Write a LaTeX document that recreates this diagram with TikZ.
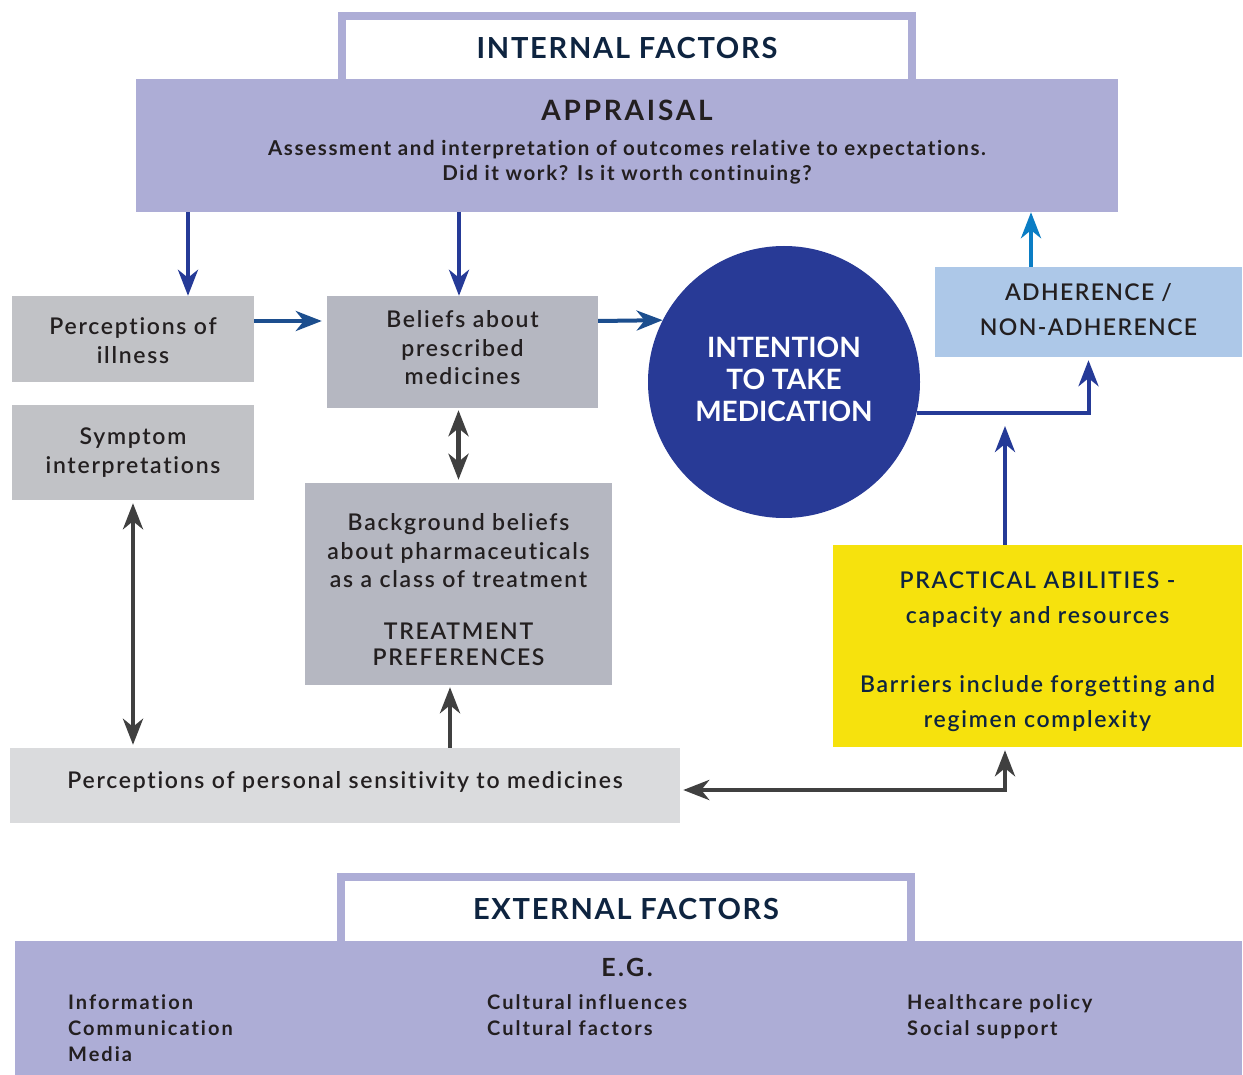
\documentclass[tikz,border=0pt]{standalone}
\usepackage{fontspec}
\setmainfont{Lato}[Ligatures=NoCommon]
% tracked cuts of Lato used across the chart
\newfontfamily\bodyfont[LetterSpace=7.5,Ligatures=NoCommon]{Lato Semibold}
\newfontfamily\capsfont[LetterSpace=6,Ligatures=NoCommon]{Lato Semibold}
\newfontfamily\listfont[LetterSpace=10,Ligatures=NoCommon]{Lato Bold}
\newfontfamily\subfont[LetterSpace=8,Ligatures=NoCommon]{Lato Bold}
\newfontfamily\headfont[LetterSpace=6,Ligatures=NoCommon]{Lato Bold}
\newfontfamily\plainbold[Ligatures=NoCommon]{Lato Bold}
\usetikzlibrary{arrows.meta,calc}

\definecolor{lav}{HTML}{ADADD6}
\definecolor{ink}{HTML}{231F20}
\definecolor{navy}{HTML}{0E2440}
\definecolor{greyA}{HTML}{C1C2C6}
\definecolor{greyB}{HTML}{B5B7C1}
\definecolor{greyC}{HTML}{DADBDD}
\definecolor{circblue}{HTML}{283A96}
\definecolor{adhblue}{HTML}{ADC8E8}
\definecolor{yel}{HTML}{F6E20D}
\definecolor{arrblue}{HTML}{253A97}
\definecolor{arrsteel}{HTML}{1C4E8E}
\definecolor{arrlight}{HTML}{0A7DC4}
\definecolor{arrgrey}{HTML}{404040}

\begin{document}
\begin{tikzpicture}[x=1pt,y=-1pt,
  box/.style={rectangle, inner sep=0pt},
  txt/.style={inner sep=0pt, align=center, text=ink},
  frame/.style={box, draw=lav, line width=8pt, fill=white,
    minimum width=570pt, minimum height=68pt},
  headtext/.style={txt, text=navy, font=\headfont\fontsize{29}{34}\selectfont},
  bodytext/.style={txt, font=\bodyfont\fontsize{23}{29}\selectfont},
  listtext/.style={inner sep=0pt, align=left, text=ink, anchor=north west,
    font=\listfont\fontsize{20}{26}\selectfont},
  >={Stealth[length=26pt,width=20pt,inset=8pt]},
  blueline/.style={draw=arrblue, line width=4pt},
  steelline/.style={draw=arrsteel, line width=4pt},
  lightline/.style={draw=arrlight, line width=4pt},
  greyline/.style={draw=arrgrey, line width=4.5pt},
]
\useasboundingbox[fill=white] (0,0) rectangle (1243,1075);

% ---- internal factors ----
\node[frame] (intl) at (627,50) {};
\node[headtext] (intl-t) at (627,48) {INTERNAL FACTORS};
\node[box, fill=lav, minimum width=982pt, minimum height=133pt] (appr) at (627,145.5) {};
\node[txt, font=\subfont\fontsize{20.5}{25}\selectfont] (appr-t) at (627,142.5)
  {{\listfont\fontsize{28}{34}\selectfont APPRAISAL}\\[10pt]
   Assessment and interpretation of outcomes relative to expectations.\\
   Did it work? Is it worth continuing?};

\node[box, fill=greyA, minimum width=242pt, minimum height=86pt] (illness) at (133,339) {};
\node[bodytext] (illness-t) at (133,341) {Perceptions of\\illness};
\node[box, fill=greyA, minimum width=242pt, minimum height=95pt] (symptom) at (133,452.5) {};
\node[bodytext] (symptom-t) at (133,452.5) {Symptom\\interpretations};
\node[box, fill=greyB, minimum width=271pt, minimum height=112pt] (beliefs) at (462.5,352) {};
\node[bodytext, font=\bodyfont\fontsize{23}{28.5}\selectfont] (beliefs-t) at (462.5,348)
  {Beliefs about\\prescribed\\medicines};
\node[box, fill=greyB, minimum width=307pt, minimum height=202pt] (backgr) at (458.5,584) {};
\node[bodytext, font=\bodyfont\fontsize{23}{28.5}\selectfont] (backgr-t) at (458.5,589.5)
  {Background beliefs\\about pharmaceuticals\\as a class of treatment\\[23pt]TREATMENT\\[-2.5pt]PREFERENCES};
\node[box, fill=greyC, minimum width=670pt, minimum height=75pt] (sens) at (345,785.5) {};
\node[bodytext, font=\bodyfont\fontsize{23}{28}\selectfont] (sens-t) at (345,782)
  {Perceptions of personal sensitivity to medicines};

\node[circle, fill=circblue, minimum size=272pt, inner sep=0pt] (circ) at (784,382) {};
\node[txt, text=white, font=\plainbold\fontsize{28}{32}\selectfont] (circ-t) at (784,379)
  {INTENTION\\TO TAKE\\MEDICATION};

\node[box, fill=adhblue, minimum width=307pt, minimum height=90pt] (adh) at (1088.5,312) {};
\node[txt, font=\capsfont\fontsize{23}{35}\selectfont] (adh-t) at (1088.5,310)
  {ADHERENCE /\\NON-ADHERENCE};
\node[box, fill=yel, minimum width=409pt, minimum height=202pt] (prac) at (1037.5,646) {};
\node[txt, text=navy, font=\bodyfont\fontsize{23}{35}\selectfont] (prac-t) at (1037.5,652)
  {PRACTICAL ABILITIES -\\capacity and resources\\[34pt]Barriers include forgetting and\\regimen complexity};

\coordinate (merge) at (1005,426);

% ---- external factors ----
\node[frame] (extl) at (626,911) {};
\node[headtext] (extl-t) at (626,909) {EXTERNAL FACTORS};
\node[box, fill=lav, minimum width=1227pt, minimum height=134pt] (ext) at (628.5,1008) {};
\node[txt, font=\listfont\fontsize{25}{30}\selectfont] (eg) at (627,967) {E.G.};
\node[listtext] (colA) at (68,994) {Information\\Communication\\Media};
\node[listtext] (colB) at (487,994) {Cultural influences\\Cultural factors};
\node[listtext] (colC) at (907,994) {Healthcare policy\\Social support};

% ---- connectors ----
\draw[blueline,->] ([xshift=55pt]illness.north |- appr.south) -- ([xshift=55pt]illness.north);
\draw[blueline,->] ([xshift=-3.5pt]beliefs.north |- appr.south) -- ([xshift=-3.5pt]beliefs.north);
\draw[steelline,->] ([yshift=18pt]illness.east) -- ([xshift=-5pt,yshift=18pt]illness.east -| beliefs.west);
\draw[steelline,->] ([yshift=31pt]beliefs.east) -- (circ.153);
\draw[greyline,<->] ([yshift=-2pt]beliefs.south -| backgr.north) -- ([yshift=3pt]backgr.north);
\draw[greyline,<->] ([yshift=-3pt]symptom.south) -- ([yshift=3pt]symptom.south |- sens.north);
\draw[greyline,->] ([xshift=-8.5pt]backgr.south |- sens.north) -- ([xshift=-8.5pt,yshift=-2pt]backgr.south);
\draw[blueline,->] (circ.-13) -| ([yshift=-3pt]adh.south);
\draw[blueline,->] ([xshift=-32.5pt]prac.north) -- (merge);
\draw[lightline,->] ([xshift=-57.5pt]adh.north) -- ([xshift=-57.5pt]adh.north |- appr.south);
\draw[greyline,<->] ([xshift=3pt,yshift=-4.5pt]sens.east) -| ([xshift=-32.5pt,yshift=-3pt]prac.south);
\end{tikzpicture}
\end{document}
